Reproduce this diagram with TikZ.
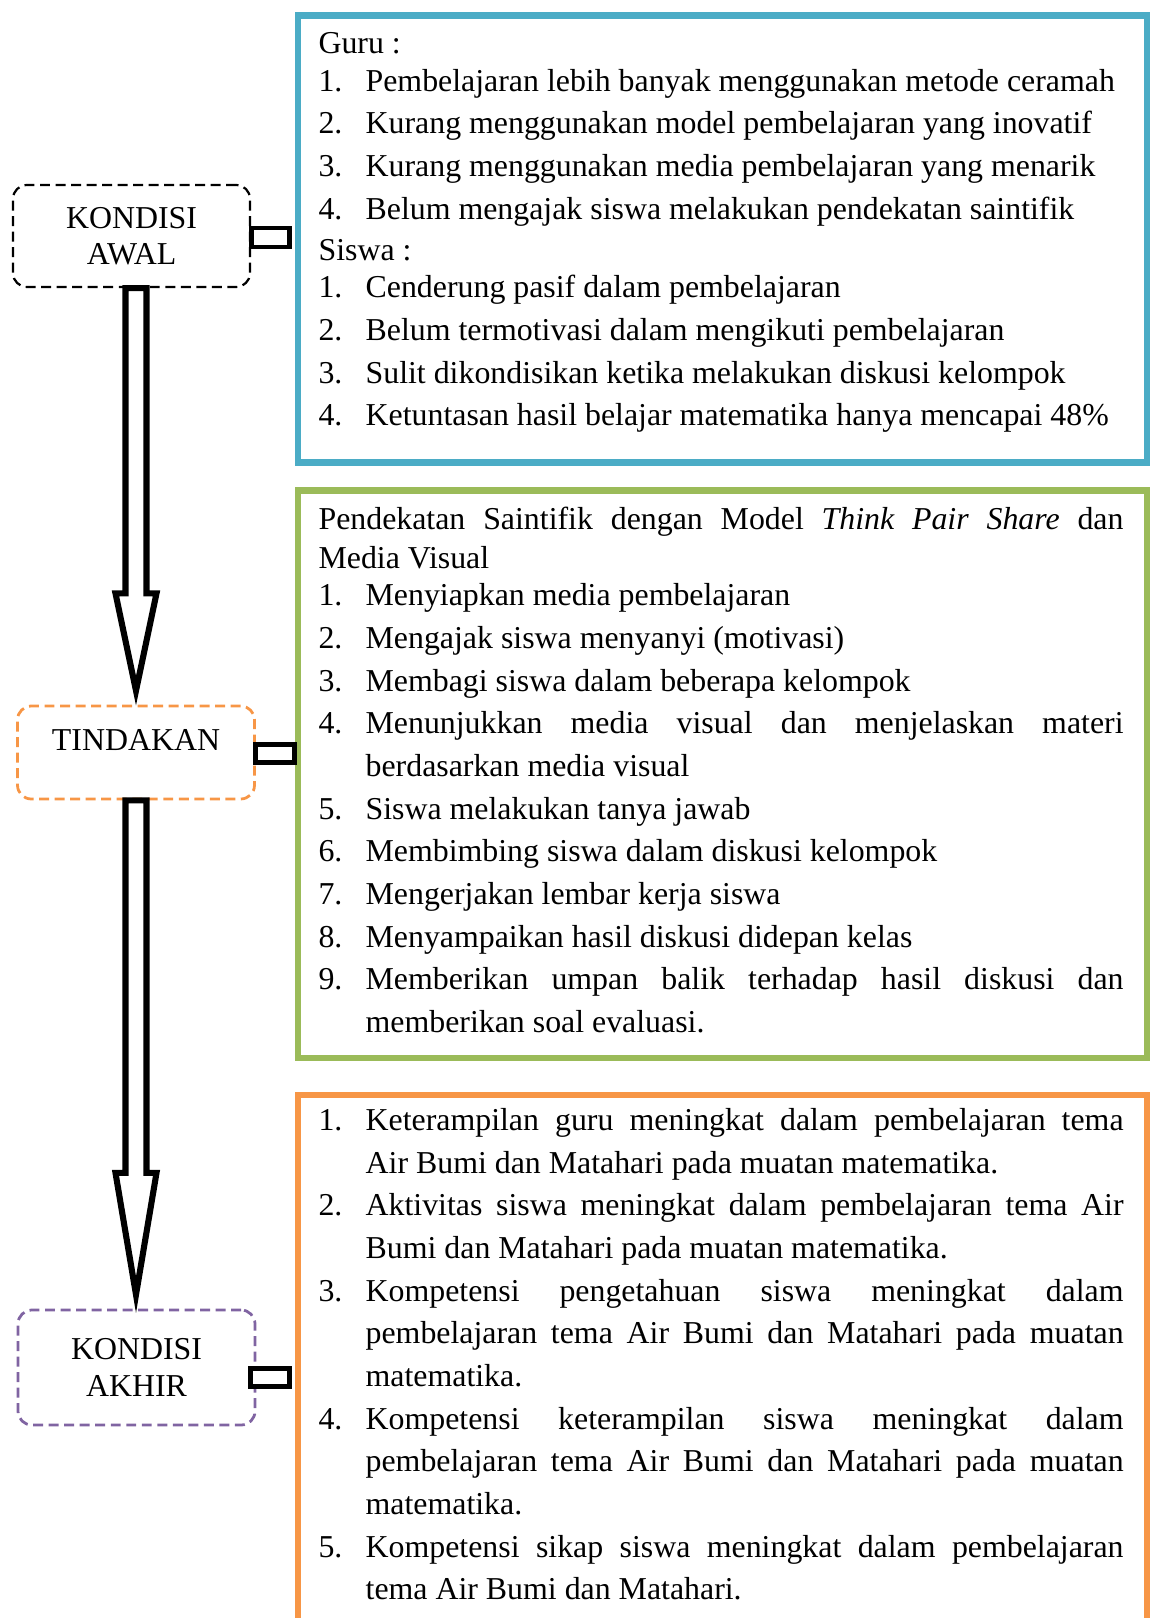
\documentclass[tikz,border=0pt]{standalone}
\usepackage{fontspec}
\setmainfont{Liberation Serif}
\usetikzlibrary{calc,positioning}

\definecolor{biru}{HTML}{4BACC6}
\definecolor{hijau}{HTML}{9BBB59}
\definecolor{oranye}{HTML}{F79646}
\definecolor{ungu}{HTML}{8064A2}

\def\upx{0.361pt}
\newcommand\aturisi{\tolerance=10000\hyphenpenalty=10000\parindent=0pt}
\newcommand\butir[2]{\hangindent=17pt\hangafter=1\noindent\makebox[17pt][l]{#1.}#2\par}
\newcommand\judul[1]{{\baselineskip=13.8pt\noindent #1\par}\vspace{-1.8pt}}

\begin{document}
\begin{tikzpicture}[x=\upx,y=-\upx,
	kondisi/.style={
		draw,
		dash pattern=on 3.6pt off 2pt,
		line width=0.8pt,
		rounded corners=5pt,
		align=center,
		inner sep=0pt,
		minimum width=237*\upx,
		font=\fontsize{11.5pt}{13.2pt}\selectfont
	},
	panel/.style={
		draw=#1,
		line width=2.5pt,
		anchor=north west,
		inner sep=0pt,
		minimum width=849*\upx
	},
	isi/.style={
		anchor=north west,
		inner sep=0pt,
		text width=805*\upx,
		align=justify,
		font=\fontsize{11.5pt}{15.4pt}\selectfont
	},
	sambung/.style={draw, line width=1.8pt, fill=white},
	panah/.style={
		draw, line width=2.2pt, fill=white,
		to path={
			($(\tikztostart)+(-10.5,0)$) -- ($(\tikztostart)!0.733!(\tikztotarget)+(-10.5,0)$)
			-- ($(\tikztostart)!0.733!(\tikztotarget)+(-20.5,0)$) -- ($(\tikztotarget)+(0,-14)$)
			-- ($(\tikztostart)!0.733!(\tikztotarget)+(20.5,0)$) -- ($(\tikztostart)!0.733!(\tikztotarget)+(10.5,0)$)
			-- ($(\tikztostart)+(10.5,0)$) -- cycle}
	}
	]
	\useasboundingbox (0,0) rectangle (1150,1618);
	
	% kotak kanan
	\node[panel=biru, minimum height=447*\upx] (guru) at (294.5,12.5) {};
	\node[panel=hijau, minimum height=567*\upx] (aksi) at (294.5,487.5) {};
	\node[panel=oranye, minimum height=600*\upx] (hasil) at (294.5,1091.5) {};
	
	% kotak kiri
	\node[kondisi, minimum height=102*\upx] (awal) at (131.5,236) {KONDISI\\AWAL};
	\node[kondisi, draw=oranye, line width=1pt, minimum height=93*\upx, text depth=9pt] (tindakan) at (136,752.5) {TINDAKAN};
	\node[kondisi, draw=ungu, line width=1pt, minimum height=115*\upx] (akhir) at (136.5,1367.5) {KONDISI\\AKHIR};
	
	\draw[sambung] ($(awal.east)+(0,-8)$) rectangle ($(guru.west |- awal.east)+(-5,11)$);
	\draw[sambung] ($(tindakan.east)+(0,-8)$) rectangle ($(aksi.west |- tindakan.east)+(0,10)$);
	\draw[sambung] ($(akhir.east)+(-5.5,1)$) rectangle ($(hasil.west |- akhir.east)+(-5,19)$);
	
	\draw[panah] (tindakan.north |- awal.south) to (tindakan.north);
	\draw[panah] (tindakan.south) to (akhir.north -| tindakan.south);
	
	\node[isi] (teksguru) at (318,32) {\aturisi
		\judul{Guru :}
		\butir{1}{Pembelajaran lebih banyak menggunakan metode ceramah}
		\butir{2}{Kurang menggunakan model pembelajaran yang inovatif}
		\butir{3}{Kurang menggunakan media pembelajaran yang menarik}
		\butir{4}{Belum mengajak siswa melakukan pendekatan saintifik}
		\vspace{1pt}
		\judul{Siswa :}
		\butir{1}{Cenderung pasif dalam pembelajaran}
		\butir{2}{Belum termotivasi dalam mengikuti pembelajaran}
		\butir{3}{Sulit dikondisikan ketika melakukan diskusi kelompok}
		\butir{4}{Ketuntasan hasil belajar matematika hanya mencapai 48\%}};
	
	\node[isi] (teksaksi) at (318,507) {\aturisi
		\judul{Pendekatan Saintifik dengan Model \textit{Think Pair Share} dan\linebreak Media Visual}
		\butir{1}{Menyiapkan media pembelajaran}
		\butir{2}{Mengajak siswa menyanyi (motivasi)}
		\butir{3}{Membagi siswa dalam beberapa kelompok}
		\butir{4}{Menunjukkan media visual dan menjelaskan materi\linebreak berdasarkan media visual}
		\butir{5}{Siswa melakukan tanya jawab}
		\butir{6}{Membimbing siswa dalam diskusi kelompok}
		\butir{7}{Mengerjakan lembar kerja siswa}
		\butir{8}{Menyampaikan hasil diskusi didepan kelas}
		\butir{9}{Memberikan umpan balik terhadap hasil diskusi dan\linebreak memberikan soal evaluasi.}};
	
	\node[isi] (tekshasil) at (318,1108) {\aturisi
		\butir{1}{Keterampilan guru meningkat dalam pembelajaran tema\linebreak Air Bumi dan Matahari pada muatan matematika.}
		\butir{2}{Aktivitas siswa meningkat dalam pembelajaran tema Air\linebreak Bumi dan Matahari pada muatan matematika.}
		\butir{3}{Kompetensi pengetahuan siswa meningkat dalam\linebreak pembelajaran tema Air Bumi dan Matahari pada muatan\linebreak matematika.}
		\butir{4}{Kompetensi keterampilan siswa meningkat dalam\linebreak pembelajaran tema Air Bumi dan Matahari pada muatan\linebreak matematika.}
		\butir{5}{Kompetensi sikap siswa meningkat dalam pembelajaran\linebreak tema Air Bumi dan Matahari.}};
\end{tikzpicture}
\end{document}
